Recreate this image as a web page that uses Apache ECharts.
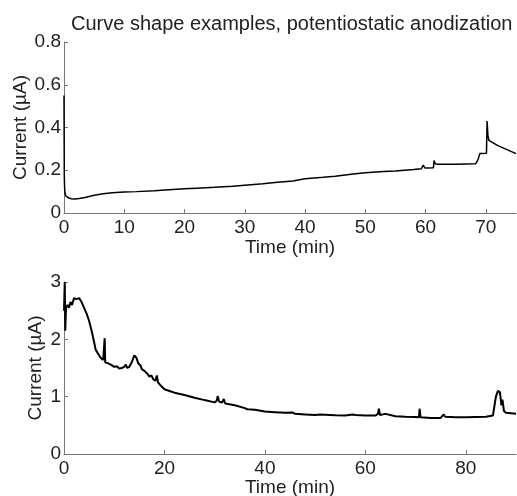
<!DOCTYPE html>
<html>
<head>
<meta charset="utf-8">
<script src="https://cdn.jsdelivr.net/npm/echarts@6/dist/echarts.min.js"></script>
<style>html,body{margin:0;padding:0;background:#fff;}#c{width:517px;height:496px;}</style>
</head>
<body>
<div id="c"></div>
<script>
// Top panel data (time in min, current in µA)
var topTime = [0, 0.05, 0.1, 0.15, 0.2, 0.3, 0.5, 0.8, 1.2, 1.8, 2.5, 3.5, 5, 6.5, 8, 10, 12, 15, 18, 20, 22, 25, 28, 30, 33, 35, 38, 40, 43, 45, 48, 50, 53, 55, 58, 59.3, 59.6, 59.9, 60.3, 61.3, 61.4, 61.6, 62, 65, 68.3, 68.7, 69, 70.1, 70.2, 70.35, 70.5, 70.8, 72, 75];
var topCurrent = [0.55, 0.17, 0.12, 0.1, 0.09, 0.08, 0.075, 0.07, 0.067, 0.065, 0.068, 0.073, 0.083, 0.09, 0.095, 0.098, 0.1, 0.104, 0.11, 0.113, 0.116, 0.12, 0.125, 0.13, 0.137, 0.143, 0.15, 0.16, 0.167, 0.172, 0.182, 0.188, 0.194, 0.197, 0.203, 0.207, 0.224, 0.21, 0.21, 0.212, 0.245, 0.23, 0.228, 0.228, 0.23, 0.25, 0.278, 0.28, 0.43, 0.36, 0.34, 0.335, 0.315, 0.278];

// Bottom panel data
var botTime = [0, 0.15, 0.25, 0.4, 0.7, 1.0, 1.3, 1.6, 2.0, 2.5, 3.0, 3.5, 4.0, 4.5, 5.0, 5.5, 6.0, 6.3, 6.8, 7.3, 7.8, 8.0, 8.1, 8.2, 8.8, 9.5, 10.0, 10.5, 11, 11.5, 12, 12.3, 12.6, 13.0, 13.5, 14.0, 14.4, 14.8, 15.2, 15.5, 16, 16.3, 16.6, 17.0, 17.4, 17.8, 18.2, 18.5, 18.7, 19.2, 20, 21, 22, 24, 26, 28, 28.3, 28.6, 30, 30.4, 30.6, 30.9, 31.5, 31.8, 32.1, 34, 36, 36.5, 38, 40, 42, 44, 45.5, 46, 48, 50, 51, 52, 54, 56, 57.5, 58, 60, 62, 62.5, 62.7, 62.9, 64, 64.3, 66, 68, 70, 70.7, 70.8, 71.0, 73, 75, 75.6, 75.9, 78, 80, 82, 84, 85.4, 85.7, 86.0, 86.4, 86.8, 87.1, 87.3, 87.6, 88, 89, 90];
var botCurrent = [2.5, 3.0, 2.15, 2.55, 2.6, 2.55, 2.65, 2.6, 2.72, 2.7, 2.72, 2.65, 2.55, 2.45, 2.32, 2.15, 1.95, 1.82, 1.75, 1.68, 1.64, 1.62, 2.02, 1.6, 1.58, 1.55, 1.52, 1.53, 1.49, 1.5, 1.52, 1.56, 1.5, 1.52, 1.6, 1.72, 1.68, 1.58, 1.55, 1.48, 1.45, 1.42, 1.4, 1.35, 1.37, 1.3, 1.28, 1.37, 1.25, 1.2, 1.13, 1.1, 1.07, 1.03, 0.98, 0.94, 0.97, 0.93, 0.9, 0.93, 1.01, 0.91, 0.9, 0.96, 0.88, 0.85, 0.8, 0.78, 0.77, 0.74, 0.73, 0.72, 0.725, 0.7, 0.69, 0.68, 0.69, 0.685, 0.675, 0.67, 0.69, 0.68, 0.67, 0.67, 0.7, 0.79, 0.68, 0.7, 0.67, 0.66, 0.65, 0.645, 0.64, 0.79, 0.64, 0.63, 0.63, 0.69, 0.65, 0.64, 0.64, 0.645, 0.65, 0.67, 0.65, 1.0, 1.1, 1.08, 0.85, 0.95, 0.75, 0.72, 0.71, 0.7];

var titleText = 'Curve shape examples, potentiostatic anodization';
var xName = 'Time (min)';
var yName = 'Current (µA)';

function pairs(xs, ys) { return xs.map(function (x, i) { return [x, ys[i]]; }); }

var FONT = 'Liberation Sans, Arial, sans-serif';
var axisColor = '#777';
var textColor = '#222';

function xAxis(idx, max, interval, gap) {
  return {
    type: 'value', gridIndex: idx, min: 0, max: max, interval: interval,
    name: xName, nameLocation: 'middle', nameGap: gap, nameMoveOverlap: false,
    nameTextStyle: { fontFamily: FONT, fontSize: 19, color: textColor },
    axisLine: { show: true, lineStyle: { color: axisColor, width: 1 } },
    axisTick: { show: true, inside: true, length: 4, lineStyle: { color: axisColor } },
    axisLabel: { fontFamily: FONT, fontSize: 19, color: textColor, margin: 5, showMaxLabel: false },
    splitLine: { show: false }
  };
}
function yAxis(idx, max, interval, gap) {
  return {
    type: 'value', gridIndex: idx, min: 0, max: max, interval: interval,
    name: yName, nameLocation: 'middle', nameGap: gap, nameRotate: 90, nameMoveOverlap: false,
    nameTextStyle: { fontFamily: FONT, fontSize: 19, color: textColor },
    axisLine: { show: true, lineStyle: { color: axisColor, width: 1 } },
    axisTick: { show: true, inside: true, length: 4, lineStyle: { color: axisColor } },
    axisLabel: { fontFamily: FONT, fontSize: 19, color: textColor, margin: 3 },
    splitLine: { show: false }
  };
}

var chart = echarts.init(document.getElementById('c'));
chart.setOption({
  animation: false,
  backgroundColor: '#fff',
  title: {
    text: titleText, left: 66, top: 9,
    textStyle: { fontFamily: FONT, fontSize: 20, fontWeight: 'normal', color: textColor }
  },
  grid: [
    { left: 64, right: 1, top: 42, height: 171, outerBoundsMode: 'none', containLabel: false },
    { left: 64, right: 1, top: 282, height: 172, outerBoundsMode: 'none', containLabel: false }
  ],
  xAxis: [xAxis(0, 75, 10, 25), xAxis(1, 90, 20, 24)],
  yAxis: [yAxis(0, 0.8, 0.2, 34), yAxis(1, 3, 1, 19)],
  series: [
    { type: 'line', xAxisIndex: 0, yAxisIndex: 0, data: pairs(topTime, topCurrent), showSymbol: false, symbol: 'none', lineStyle: { color: '#000', width: 1.5 } },
    { type: 'line', xAxisIndex: 1, yAxisIndex: 1, data: pairs(botTime, botCurrent), showSymbol: false, symbol: 'none', lineStyle: { color: '#000', width: 2 } }
  ]
});
</script>
</body>
</html>
